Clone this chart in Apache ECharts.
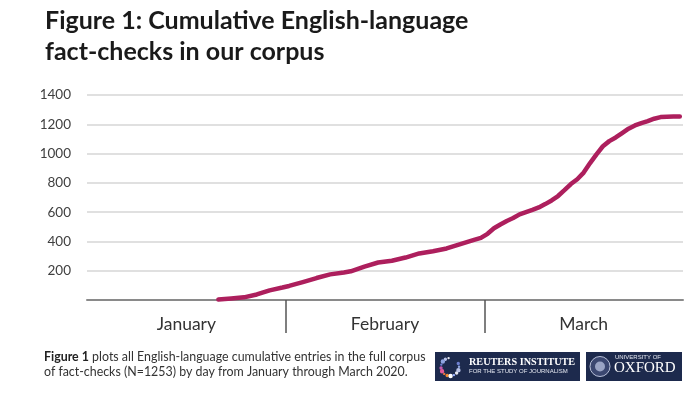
<!DOCTYPE html>
<html>
<head>
<meta charset="utf-8">
<script src="https://cdn.jsdelivr.net/npm/echarts@6/dist/echarts.min.js"></script>
<style>
html,body{margin:0;padding:0;background:#fff;}
#chart{width:700px;height:394px;}
</style>
</head>
<body>
<div id="chart"></div>
<script>
// ---- data ----
var months = ['January', 'February', 'March'];
var daysInMonth = [31, 29, 31];
var dates = ['01-21','01-23','01-25','01-27','01-29','01-31',
  '02-01','02-03','02-05','02-07','02-09','02-10','02-12','02-14','02-16','02-18','02-20','02-22','02-24','02-26','02-28','02-29',
  '03-01','03-02','03-03','03-04','03-05','03-06','03-07','03-08','03-09','03-10','03-11','03-12','03-13','03-14','03-15','03-16',
  '03-17','03-18','03-19','03-20','03-21','03-22','03-23','03-24','03-25','03-26','03-27','03-28','03-29','03-30','03-31'];
var cumulative = [3,10,18,38,66,85,
  96,122,150,175,188,196,228,256,268,290,318,333,352,382,410,424,
  452,490,516,540,560,585,600,615,632,655,680,710,750,792,825,870,
  935,995,1050,1085,1110,1140,1170,1192,1208,1222,1238,1249,1252,1253,1253];
var yTicks = [0, 200, 400, 600, 800, 1000, 1200, 1400];

// position of each day in "month units" (0..3)
var seriesData = dates.map(function (d, i) {
  var m = parseInt(d.slice(0, 2), 10) - 1;
  var day = parseInt(d.slice(3), 10);
  return [m + (day - 0.5) / daysInMonth[m], cumulative[i]];
});

var chart = echarts.init(document.getElementById('chart'), null, {renderer: 'canvas'});
var navy = '#1D2A4D';
var dotColors = ['#e8e8f0','#b9c3e8','#8fa4e0','#6d7fd0','#c25ab0','#e25a9a','#e8733a','#f08a30','#ffffff','#9ab0ff'];
var dots = [];
for (var k = 0; k < 14; k++) {
  var a = Math.PI * 0.55 + k * (Math.PI * 1.7 / 14);
  dots.push({
    type: 'circle',
    shape: {cx: 450 + 9 * Math.cos(a), cy: 367 - 9 * Math.sin(a), r: 1.2 + (k % 3) * 0.5},
    style: {fill: dotColors[k % dotColors.length]}
  });
}

chart.setOption({
  animation: false,
  backgroundColor: '#ffffff',
  title: {
    text: 'Figure 1: Cumulative English-language\nfact-checks in our corpus',
    left: 45,
    top: 5,
    padding: 0,
    textStyle: {
      fontFamily: 'Lato',
      fontWeight: 'bold',
      fontSize: 25,
      lineHeight: 31,
      color: '#1a1a1a'
    }
  },
  grid: {left: 87, right: 17, top: 95, bottom: 94},
  xAxis: {
    type: 'value',
    min: 0,
    max: 3,
    splitLine: {show: false},
    axisLine: {show: true, onZero: false, lineStyle: {color: '#8a8a8a', width: 2}},
    axisTick: {show: true, customValues: [1, 2], length: 33, lineStyle: {color: '#555555', width: 1.5}},
    axisLabel: {
      show: true,
      customValues: [0.5, 1.5, 2.5],
      formatter: function (v) { return months[Math.floor(v)]; },
      margin: 15,
      fontFamily: 'Lato',
      fontSize: 17.5,
      color: '#333333'
    }
  },
  yAxis: {
    type: 'value',
    min: yTicks[0],
    max: yTicks[yTicks.length - 1],
    interval: 200,
    axisLine: {show: false},
    axisTick: {show: false},
    splitLine: {lineStyle: {color: '#d6d6d6', width: 1.5}},
    axisLabel: {
      margin: 16,
      fontFamily: 'Lato',
      fontSize: 13.5,
      color: '#404040',
      formatter: function (v) { return v === 0 ? '' : String(v); }
    }
  },
  series: [{
    type: 'line',
    data: seriesData,
    showSymbol: false,
    smooth: false,
    lineStyle: {color: '#AD1F5D', width: 4.5, cap: 'round', join: 'round'},
    z: 5
  }],
  graphic: [
    {
      type: 'text',
      left: 44,
      top: 349,
      style: {
        text: '{b|Figure 1} plots all English-language cumulative entries in the full corpus\nof fact-checks (N=1253) by day from January through March 2020.',
        font: '12.4px Lato',
        fill: '#333333',
        lineHeight: 15.5,
        rich: {b: {fontWeight: 'bold', fontFamily: 'Lato', fontSize: 12.4, fill: '#222222'}}
      }
    },
    {type: 'rect', shape: {x: 435, y: 352, width: 145, height: 29}, style: {fill: navy}},
    {type: 'group', children: dots},
    {type: 'text', x: 469, y: 357, style: {text: 'REUTERS INSTITUTE', font: 'bold 10.2px "Liberation Serif"', fill: '#ffffff'}},
    {type: 'text', x: 469, y: 368, style: {text: 'FOR THE STUDY OF JOURNALISM', font: '6px "Liberation Sans"', fill: '#e6e9f2'}},
    {type: 'rect', shape: {x: 586, y: 352, width: 96, height: 29}, style: {fill: navy}},
    {type: 'circle', shape: {cx: 600, cy: 366.5, r: 10}, style: {fill: '#3b4770', stroke: '#b8c0d8', lineWidth: 1}},
    {type: 'circle', shape: {cx: 600, cy: 366.5, r: 5}, style: {fill: '#9aa4c4'}},
    {type: 'text', x: 615, y: 354.5, style: {text: 'UNIVERSITY OF', font: '6px "Liberation Sans"', fill: '#e6e9f2'}},
    {type: 'text', x: 614, y: 361, style: {text: 'OXFORD', font: '15px "Liberation Serif"', fill: '#ffffff'}}
  ]
});
</script>
</body>
</html>
